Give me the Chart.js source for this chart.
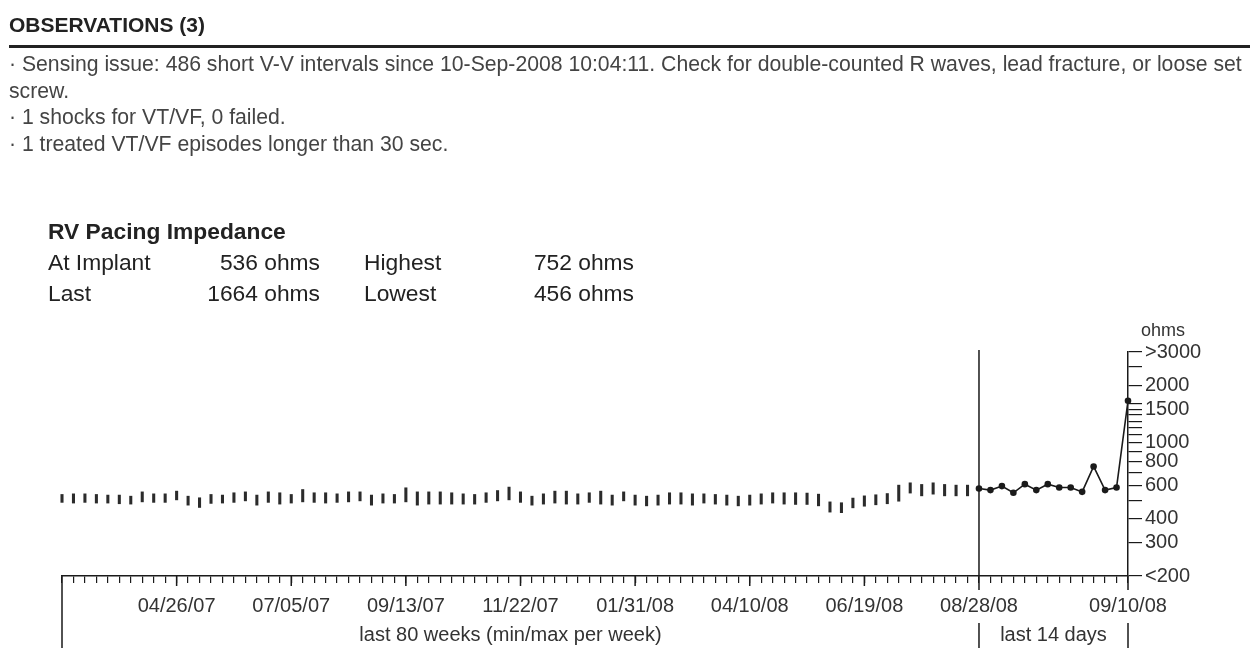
<!DOCTYPE html>
<html>
<head>
<meta charset="utf-8">
<script src="https://cdn.jsdelivr.net/npm/chart.js@4.4.0/dist/chart.umd.min.js"></script>
<style>
  html, body { margin: 0; padding: 0; background: #fff; }
  body { width: 1250px; height: 648px; position: relative; overflow: hidden;
         font-family: "Liberation Sans", Arial, sans-serif; color: #333; }
  #chart { position: absolute; left: 0; top: 0; }
  #obs-title { position: absolute; left: 9px; top: 14px; font-weight: bold; font-size: 21px; line-height: 22px; color: #222; }
  #rule { position: absolute; left: 9px; right: 0; top: 45px; height: 3px; background: #222; }
  #obs { position: absolute; left: 9px; top: 51px; font-size: 21.2px; line-height: 26.5px; color: #444; white-space: nowrap; }
  #imp { position: absolute; left: 48px; top: 216px; font-size: 22.8px; color: #222; border-collapse: collapse; }
  #imp td { padding: 0; height: 31px; line-height: 31px; white-space: nowrap; }
  #imp .t { font-weight: bold; }
  #imp .c1 { width: 110px; }
  #imp .c2 { width: 162px; text-align: right; }
  #imp .c3 { width: 44px; }
  #imp .c4 { width: 110px; }
  #imp .c5 { width: 160px; text-align: right; }
</style>
</head>
<body>
<canvas id="chart" width="1250" height="648"></canvas>

<div id="obs-title">OBSERVATIONS (3)</div>
<div id="rule"></div>
<div id="obs">
  &middot; Sensing issue: 486 short V-V intervals since 10-Sep-2008 10:04:11. Check for double-counted R waves, lead fracture, or loose set<br>
  screw.<br>
  &middot; 1 shocks for VT/VF, 0 failed.<br>
  &middot; 1 treated VT/VF episodes longer than 30 sec.
</div>

<table id="imp">
  <tr><td class="t" colspan="5">RV Pacing Impedance</td></tr>
  <tr><td class="c1">At Implant</td><td class="c2">536 ohms</td><td class="c3"></td><td class="c4">Highest</td><td class="c5">752 ohms</td></tr>
  <tr><td class="c1">Last</td><td class="c2">1664 ohms</td><td class="c3"></td><td class="c4">Lowest</td><td class="c5">456 ohms</td></tr>
</table>

<script>
// weekly min/max impedance, last 80 weeks (ohms)
const weekMax = [536, 540, 540, 536, 532, 532, 525, 553, 540, 540,
                 558, 525, 515, 536, 532, 547, 553, 532, 553, 547,
                 536, 569, 547, 547, 540, 553, 553, 532, 540, 536,
                 581, 553, 553, 553, 547, 540, 536, 547, 562, 586,
                 553, 525, 540, 558, 558, 540, 547, 558, 532, 553,
                 532, 525, 532, 547, 547, 540, 540, 536, 532, 525,
                 532, 540, 547, 547, 547, 545, 538, 490, 485, 513,
                 527, 534, 542, 600, 617, 605, 617, 605, 600, 600];
const weekMin = [487, 483, 487, 483, 483, 479, 477, 490, 487, 487,
                 502, 471, 458, 481, 483, 487, 496, 471, 487, 477,
                 483, 490, 487, 483, 487, 490, 496, 471, 483, 483,
                 490, 471, 477, 477, 477, 477, 477, 487, 496, 502,
                 487, 471, 477, 483, 477, 477, 487, 477, 471, 496,
                 471, 467, 471, 477, 477, 471, 483, 477, 471, 467,
                 471, 477, 483, 477, 475, 475, 467, 433, 430, 456,
                 465, 473, 479, 494, 545, 527, 538, 527, 527, 527];

// daily values, last 14 days (08/28/08 .. 09/10/08)
const dayValues = [576, 565, 593, 547, 607, 565, 607, 583, 583, 553, 752, 565, 583, 1664];

// x tick labels: every 10 weeks, then the last day
const weekTickLabels = ["04/26/07", "07/05/07", "09/13/07", "11/22/07", "01/31/08", "04/10/08", "06/19/08", "08/28/08"];
const lastDayLabel = "09/10/08";

// y ticks (log scale) and the ones that carry a label
const yTickValues = [3000, 2500, 2000, 1600, 1500, 1400, 1300, 1200, 1100,
                     1000, 900, 800, 700, 600, 500, 400, 300, 200];
const yTickLabels = { 3000: ">3000", 2000: "2000", 1500: "1500", 1000: "1000", 800: "800",
                      600: "600", 400: "400", 300: "300", 200: "<200" };

const WEEKS = weekMax.length;          // 80
const DAYS = dayValues.length - 1;     // 13 steps after 08/28/08

const barData = weekMax.map((hi, i) => ({ x: i, y: [weekMin[i], hi] }));
const lineData = dayValues.map((v, d) => ({ x: WEEKS + d, y: v }));

const FONT = "Liberation Sans";
const INK = "#1a1a1a";

// extra lines and captions around the axes
const decor = {
  id: "decor",
  afterDraw(chart) {
    const { ctx, chartArea, scales: { x } } = chart;
    const bottom = chartArea.bottom;
    const x0 = x.getPixelForValue(0);
    const xSplit = x.getPixelForValue(WEEKS);
    const xEnd = x.getPixelForValue(WEEKS + DAYS);
    ctx.save();
    ctx.strokeStyle = INK;
    ctx.lineWidth = 1.5;
    ctx.beginPath();
    // divider between weekly and daily parts
    ctx.moveTo(xSplit, chartArea.top - 2);
    ctx.lineTo(xSplit, bottom + 14);
    // y axis runs on a bit below the ruler
    ctx.moveTo(xEnd, bottom);
    ctx.lineTo(xEnd, bottom + 14);
    // left edge
    ctx.moveTo(x0, bottom);
    ctx.lineTo(x0, 648);
    // longer ticks every 10 weeks
    for (let w = 10; w < WEEKS; w += 10) {
      const px = x.getPixelForValue(w);
      ctx.moveTo(px, bottom);
      ctx.lineTo(px, bottom + 10);
    }
    // bracket round "last 14 days"
    ctx.moveTo(xSplit, 623);
    ctx.lineTo(xSplit, 648);
    ctx.moveTo(xEnd, 623);
    ctx.lineTo(xEnd, 648);
    ctx.stroke();

    ctx.fillStyle = "#333";
    ctx.font = "20px '" + FONT + "'";
    ctx.textBaseline = "middle";
    ctx.textAlign = "center";
    ctx.fillText("last 80 weeks (min/max per week)", (x0 + xSplit) / 2 - 10, 635);
    ctx.fillText("last 14 days", (xSplit + xEnd) / 2, 635);
    ctx.font = "18px '" + FONT + "'";
    ctx.fillText("ohms", xEnd + 35, 331);
    ctx.restore();
  }
};

new Chart(document.getElementById("chart"), {
  type: "bar",
  data: {
    datasets: [
      {
        type: "bar",
        data: barData,
        backgroundColor: "#2b2b2b",
        borderWidth: 0,
        barThickness: 2.4,
        clip: false
      },
      {
        type: "line",
        data: lineData,
        borderColor: INK,
        borderWidth: 1.6,
        pointRadius: 3.3,
        pointBackgroundColor: INK,
        pointBorderWidth: 0,
        tension: 0,
        clip: false
      }
    ]
  },
  options: {
    responsive: false,
    animation: false,
    layout: { padding: { left: 62, top: 352, right: 0, bottom: 0 } },
    plugins: { legend: { display: false }, tooltip: { enabled: false } },
    scales: {
      x: {
        type: "linear",
        min: 0,
        max: WEEKS + DAYS,
        offset: false,
        afterBuildTicks(scale) {
          const t = [];
          for (let i = 0; i <= WEEKS + DAYS; i++) t.push({ value: i });
          scale.ticks = t;
        },
        afterFit(scale) { scale.height = 72; },
        grid: { display: true, drawOnChartArea: false, drawTicks: true, tickLength: 7,
                color: INK, lineWidth: 1.2, offset: false },
        border: { display: true, color: INK, width: 1.5 },
        ticks: {
          autoSkip: false, maxRotation: 0, minRotation: 0, padding: 11,
          color: "#333", font: { family: FONT, size: 20 },
          callback(value) {
            if (value === WEEKS + DAYS) return lastDayLabel;
            if (value > 0 && value <= WEEKS && value % 10 === 0) return weekTickLabels[value / 10 - 1];
            return "";
          }
        }
      },
      y: {
        type: "logarithmic",
        position: "right",
        min: 200,
        max: 3000,
        afterBuildTicks(scale) {
          scale.ticks = yTickValues.map(v => ({ value: v }));
        },
        afterFit(scale) { scale.width = 122; },
        grid: { display: true, drawOnChartArea: false, drawTicks: true, tickLength: 14,
                color: INK, lineWidth: 1.2 },
        border: { display: true, color: INK, width: 1.5 },
        ticks: {
          autoSkip: false, padding: 3,
          color: "#333", font: { family: FONT, size: 20 },
          callback(value) { return yTickLabels[value] || ""; }
        }
      }
    }
  },
  plugins: [decor]
});
</script>
</body>
</html>
